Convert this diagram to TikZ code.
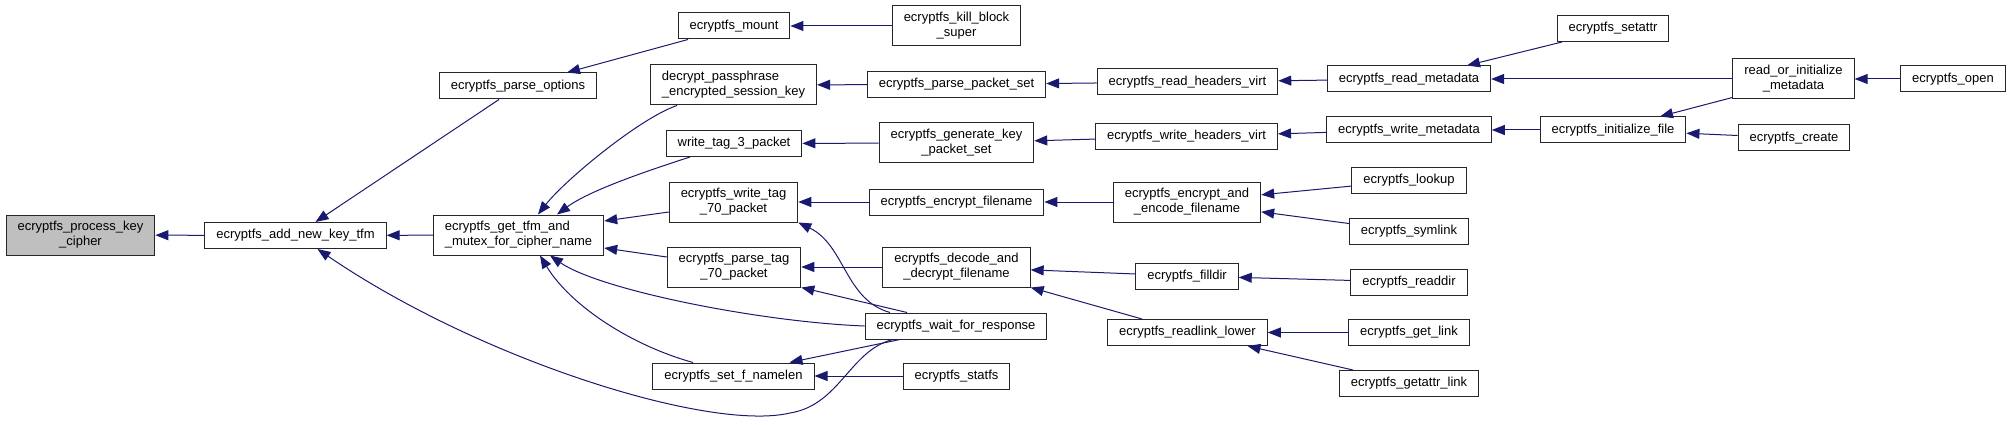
\documentclass[tikz,border=0pt]{standalone}
\usepackage{fontspec}
\setmainfont{Liberation Sans}
\usetikzlibrary{arrows.meta, calc}
\definecolor{edgeblue}{HTML}{191970}
\definecolor{focusgray}{HTML}{BFBFBF}

\begin{document}
\begin{tikzpicture}[
    x=1pt, y=-1pt,
    box/.style={rectangle, draw=black!85, line width=1pt, fill=white, minimum height=26pt, inner xsep=11.5pt, inner ysep=0pt, align=center, font=\fontsize{13}{15}\selectfont},
    twoline/.style={box, minimum height=40pt},
    arrow/.style={-{Triangle[length=13pt,width=10pt]}, edgeblue, line width=1pt},
]
\useasboundingbox (0,0) rectangle (2011,425);

% Nodes
\node[twoline, fill=focusgray] (process) at (80.5,235) {ecryptfs\_process\_key\\\_cipher};
\node[box] (addkey) at (295.5,235.5) {ecryptfs\_add\_new\_key\_tfm};
\node[twoline, align=left] (gettfm) at (518.5,235) {ecryptfs\_get\_tfm\_and\\\_mutex\_for\_cipher\_name};
\node[box] (parseopt) at (518,86) {ecryptfs\_parse\_options};

\node[box] (mount) at (734,26) {ecryptfs\_mount};
\node[twoline, align=left] (decryptpp) at (733.5,85) {decrypt\_passphrase\\\_encrypted\_session\_key};
\node[box] (wtag3) at (734,143.5) {write\_tag\_3\_packet};
\node[twoline] (wtag70) at (733.5,202) {ecryptfs\_write\_tag\\\_70\_packet};
\node[twoline] (ptag70) at (734,267) {ecryptfs\_parse\_tag\\\_70\_packet};
\node[box] (setfname) at (733.5,376) {ecryptfs\_set\_f\_namelen};

\node[twoline] (killblock) at (956.5,26) {ecryptfs\_kill\_block\\\_super};
\node[box] (parsepkt) at (956.5,84.5) {ecryptfs\_parse\_packet\_set};
\node[twoline] (genkey) at (956.5,143) {ecryptfs\_generate\_key\\\_packet\_set};
\node[box] (encfn) at (956.5,202) {ecryptfs\_encrypt\_filename};
\node[twoline] (decdec) at (956.5,267) {ecryptfs\_decode\_and\\\_decrypt\_filename};
\node[box] (waitresp) at (956,326) {ecryptfs\_wait\_for\_response};
\node[box] (statfs) at (956.5,376) {ecryptfs\_statfs};

\node[box] (readhdr) at (1187.5,82) {ecryptfs\_read\_headers\_virt};
\node[box] (writehdr) at (1186.5,136.5) {ecryptfs\_write\_headers\_virt};
\node[twoline] (encenc) at (1187,202) {ecryptfs\_encrypt\_and\\\_encode\_filename};
\node[box] (filldir) at (1187,276) {ecryptfs\_filldir};
\node[box] (readlink) at (1187.5,332.5) {ecryptfs\_readlink\_lower};

\node[box] (readmeta) at (1409,79) {ecryptfs\_read\_metadata};
\node[box] (writemeta) at (1409,130) {ecryptfs\_write\_metadata};
\node[box] (lookup) at (1409,180.5) {ecryptfs\_lookup};
\node[box] (symlink) at (1409,231.5) {ecryptfs\_symlink};
\node[box] (readdir) at (1409,282) {ecryptfs\_readdir};
\node[box] (getlink) at (1409,332.5) {ecryptfs\_get\_link};
\node[box] (getattrlink) at (1409,383.5) {ecryptfs\_getattr\_link};

\node[box] (setattr) at (1613,28.5) {ecryptfs\_setattr};
\node[box] (initfile) at (1613,130) {ecryptfs\_initialize\_file};
\node[twoline] (readinit) at (1793.5,79) {read\_or\_initialize\\\_metadata};
\node[box] (create) at (1794,138) {ecryptfs\_create};
\node[box] (open) at (1953,79) {ecryptfs\_open};

% Arrows
\draw[arrow] (addkey) -- (process);
\draw[arrow] (gettfm) -- (addkey);
\draw[arrow] ($(parseopt.south)+(-19,0)$) -- ($(addkey.north)+(20,0)$);
\draw[arrow] ($(waitresp.south)+(-63,0)$) .. controls (850,350) and (840,405) .. (790,413)
    .. controls (710,432) and (480,360) .. ($(addkey.south)+(22,0)$);
\draw[arrow] ($(mount.south)+(-46,0)$) -- ($(parseopt.north)+(49,0)$);
\draw[arrow] (killblock) -- (mount);

\draw[arrow] ($(decryptpp.south)+(-56.5,0)$) .. controls (640,118) and (565,180) .. ($(gettfm.north)+(19.5,0)$);
\draw[arrow] ($(wtag3.south)+(-44,0)$) .. controls (650,170) and (590,190) .. ($(gettfm.north)+(38.5,0)$);
\draw[arrow] ($(wtag70.west)+(0,10)$) -- ($(gettfm.east)+(0,-14)$);
\draw[arrow] ($(ptag70.west)+(0,-10)$) -- ($(gettfm.east)+(0,13)$);
\draw[arrow] (waitresp.west) .. controls (760,322) and (600,290) .. ($(gettfm.south)+(31.5,0)$);
\draw[arrow] ($(setfname.north)+(-40.5,0)$) .. controls (630,345) and (570,305) .. ($(gettfm.south)+(21.5,0)$);

\draw[arrow] (parsepkt) -- (decryptpp);
\draw[arrow] (readhdr) -- (parsepkt);
\draw[arrow] (readmeta) -- (readhdr);
\draw[arrow] ($(setattr.south)+(-51,0)$) -- ($(readmeta.north)+(58,0)$);
\draw[arrow] (readinit) -- (readmeta);
\draw[arrow] (open) -- (readinit);
\draw[arrow] ($(readinit.south west)+(0,-2)$) -- ($(initfile.north)+(47,0)$);
\draw[arrow] (create) -- (initfile);
\draw[arrow] (initfile) -- (writemeta);
\draw[arrow] (writemeta) -- (writehdr);
\draw[arrow] (writehdr) -- (genkey);
\draw[arrow] (genkey) -- (wtag3);

\draw[arrow] (encfn) -- (wtag70);
\draw[arrow] (encenc) -- (encfn);
\draw[arrow] (lookup) -- (encenc);
\draw[arrow] (symlink) -- (encenc);
\draw[arrow] ($(waitresp.north)+(-66,0)$) .. controls (845,300) and (845,245) .. (wtag70.south east);
\draw[arrow] (decdec) -- (ptag70);
\draw[arrow] ($(waitresp.north)+(-49,0)$) -- (ptag70.south east);
\draw[arrow] (filldir) -- (decdec);
\draw[arrow] (readdir) -- (filldir);
\draw[arrow] ($(readlink.north)+(-45.5,0)$) -- (decdec.south east);
\draw[arrow] (getlink) -- (readlink);
\draw[arrow] ($(getattrlink.north)+(-56,0)$) -- ($(readlink.south)+(60,0)$);
\draw[arrow] ($(waitresp.south)+(-56,0)$) -- ($(setfname.north)+(56,0)$);
\draw[arrow] (statfs) -- (setfname);

\end{tikzpicture}
\end{document}
